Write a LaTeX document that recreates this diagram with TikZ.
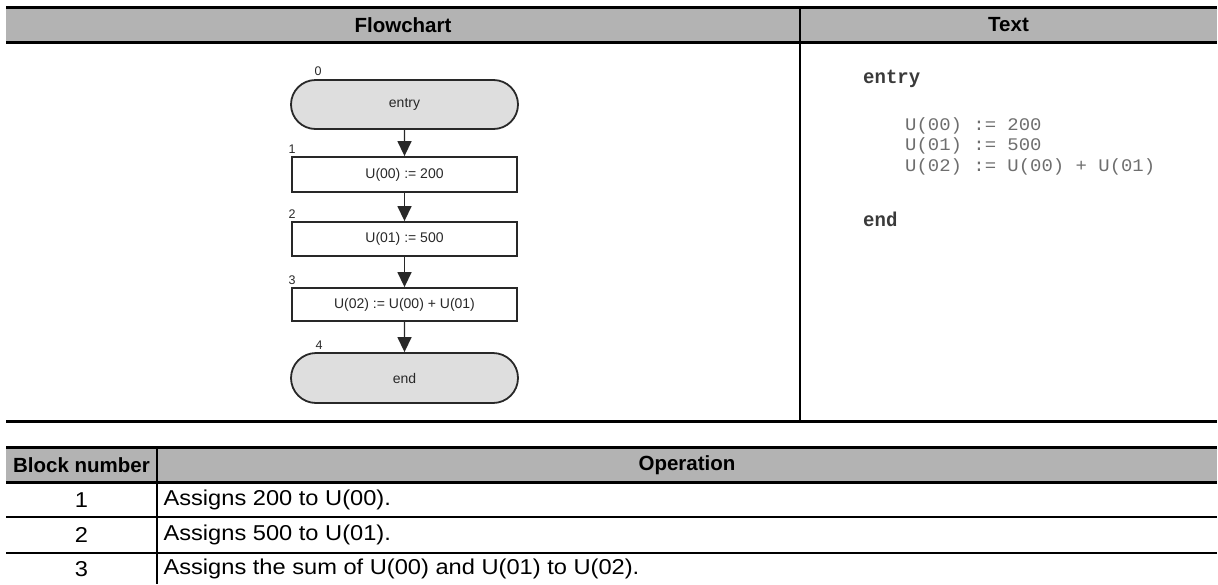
\documentclass[tikz,border=0pt]{standalone}
\usepackage{fontspec}
\setmainfont{Liberation Sans}
\newfontfamily\tblfont[FakeStretch=1.1]{Liberation Sans}
\newfontfamily\codefont[FakeStretch=1.07]{Liberation Mono}
\newfontfamily\kwfont[FakeStretch=0.95]{Liberation Mono Bold}
\usetikzlibrary{arrows.meta,positioning,shapes.misc}

\definecolor{hdrgray}{RGB}{179,179,179}
\definecolor{termgray}{RGB}{222,222,222}
\definecolor{inkgray}{RGB}{40,40,40}
\definecolor{codedark}{RGB}{58,58,58}
\definecolor{codelight}{RGB}{110,110,110}

\tikzset{
    thickrule/.style={line width=3pt},
    thinrule/.style={line width=2pt},
    hdr/.style={font=\fontsize{20.5}{24}\selectfont\bfseries},
    cell/.style={font=\tblfont\fontsize{21.5}{24}\selectfont},
    blk/.style={draw=inkgray, line width=1.8pt, minimum width=225pt, text=inkgray,
        font=\fontsize{14}{16}\selectfont, inner sep=0pt},
    term/.style={blk, rounded rectangle, fill=termgray, minimum width=227pt,
        minimum height=49pt},
    lbl/.style={text=inkgray, font=\fontsize{12.5}{14}\selectfont, inner sep=0pt},
    flowarrow/.style={draw=inkgray, line width=1.4pt,
        -{Triangle[width=14pt,length=15pt]}},
    kw/.style={anchor=base west, inner sep=0pt, text=codedark,
        font=\kwfont\fontsize{20}{22}\selectfont},
    stmt/.style={anchor=base west, inner sep=0pt, text=codelight,
        font=\codefont\fontsize{17.7}{20}\selectfont},
}

\begin{document}
\begin{tikzpicture}[x=1pt,y=-1pt]
    \useasboundingbox (0,0) rectangle (1218,584);

    % Upper table
    \fill[hdrgray] (6,7.5) rectangle (1217,42.5);
    \draw[thickrule] (6,7.5) -- (1217,7.5);
    \draw[thickrule] (6,42.5) -- (1217,42.5);
    \draw[thickrule] (6,421.5) -- (1217,421.5);
    \draw[thinrule] (800,7.5) -- (800,421.5);
    \node[hdr] (hflow) at (403,25) {Flowchart};
    \node[hdr] (htext) at (1008.5,25) {Text};

    % Flowchart
    \node[term] (entry) at (404.5,104.5) {entry};
    \node[blk, minimum height=35pt] (blk1) at (404.5,174.5) {U(00) := 200};
    \node[blk, minimum height=34pt] (blk2) at (404.5,239) {U(01) := 500};
    \node[blk, minimum height=33pt] (blk3) at (404.5,304.5) {U(02) := U(00) + U(01)};
    \node[term, minimum height=50pt] (exit) at (404.5,378) {end};
    \draw[flowarrow] (entry) -- (blk1);
    \draw[flowarrow] (blk1) -- (blk2);
    \draw[flowarrow] (blk2) -- (blk3);
    \draw[flowarrow] (blk3) -- (exit);
    \node[lbl] (no0) at (318,71) {0};
    \node[lbl] (no1) at (292,149) {1};
    \node[lbl] (no2) at (292,214) {2};
    \node[lbl] (no3) at (292,280) {3};
    \node[lbl] (no4) at (319,345) {4};

    % Text form
    \node[kw] (kwentry) at (863,83) {entry};
    \node[stmt] (st1) at (905,130) {U(00) := 200};
    \node[stmt] (st2) at (905,150.5) {U(01) := 500};
    \node[stmt] (st3) at (905,171) {U(02) := U(00) + U(01)};
    \node[kw] (kwend) at (863,226.5) {end};

    % Lower table
    \fill[hdrgray] (6,447.5) rectangle (1217,482.5);
    \draw[thickrule] (6,447.5) -- (1217,447.5);
    \draw[thickrule] (6,482.5) -- (1217,482.5);
    \draw[thinrule] (6,517) -- (1217,517);
    \draw[thinrule] (6,553) -- (1217,553);
    \draw[thinrule] (157,447.5) -- (157,584);
    \node[hdr] (hblock) at (81.5,465) {Block number};
    \node[hdr] (hop) at (687,465) {Operation};
    \foreach \n/\txt/\y in {1/{Assigns 200 to U(00).}/500,
                            2/{Assigns 500 to U(01).}/535,
                            3/{Assigns the sum of U(00) and U(01) to U(02).}/569} {
        \node[cell] (num\n) at (81.5,\y) {\n};
        \node[cell, anchor=west] (op\n) at (160,\y) {\txt};
    }
\end{tikzpicture}
\end{document}
